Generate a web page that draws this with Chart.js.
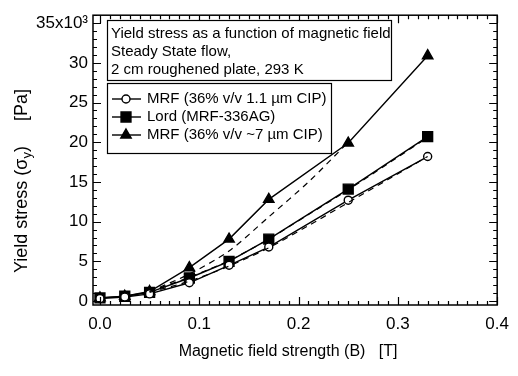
<!DOCTYPE html>
<html>
<head>
<meta charset="utf-8">
<script src="https://cdn.jsdelivr.net/npm/chart.js@4.4.1/dist/chart.umd.min.js"></script>
<style>
  body { margin: 0; background: #fff; }
  #wrap { width: 518px; height: 376px; }
</style>
</head>
<body>
<div id="wrap"><canvas id="myCanvas" width="518" height="376"></canvas></div>
<script>
// magnetic field (T)
var fieldB = [0, 0.025, 0.05, 0.09, 0.13, 0.17, 0.25, 0.33];
// yield stress (Pa)
var mrf11 = [300, 500, 900, 2300, 4500, 6800, 12700, 18200];
var lord = [400, 600, 1100, 2900, 5000, 7800, 14100, 20700];
var mrf7 = [400, 600, 1200, 4200, 7800, 12800, 19900, 30900];

// dashed model curves
var fitB = [0.05, 0.09, 0.13, 0.17, 0.21, 0.25, 0.29, 0.33];
var fit11 = [1100, 2500, 4400, 6700, 9500, 12400, 15300, 18200];
var fitLord = [1200, 3000, 5100, 7800, 10900, 14000, 17300, 20600];
var fit7B = [0.05, 0.09, 0.13, 0.17, 0.21, 0.25];
var fit7 = [1200, 3400, 6300, 10600, 15000, 20000];

var xTicks = [0, 0.1, 0.2, 0.3, 0.4];
var yTicks = [0, 5000, 10000, 15000, 20000, 25000, 30000, 35000];

var titleLines = ['Yield stress as a function of magnetic field', 'Steady State flow,', '2 cm roughened plate, 293 K'];
var legendNames = ['MRF (36% v/v 1.1 \u00b5m CIP)', 'Lord (MRF-336AG)', 'MRF (36% v/v ~7 \u00b5m CIP)'];
var xTitle = 'Magnetic field strength (B)   [T]';

var FONT = "'Liberation Sans', Arial, sans-serif";

function pts(xs, ys) {
	var out = [];
	for (var i in xs) out.push({x: xs[i], y: ys[i]});
	return out;
}

var markerStyles = [
	{pointStyle: 'circle', pointRadius: 4, pointBackgroundColor: '#fff'},
	{pointStyle: 'rect', pointRadius: 7, pointBackgroundColor: '#000'},
	{pointStyle: 'triangle', pointRadius: 6, pointBackgroundColor: '#000'}
];

function solid(data, m) {
	return {
		data: data,
		borderColor: '#000',
		borderWidth: 1.4,
		pointStyle: m.pointStyle,
		pointRadius: m.pointRadius,
		pointBackgroundColor: m.pointBackgroundColor,
		pointBorderColor: '#000',
		pointBorderWidth: 1.4,
		tension: 0,
		fill: false
	};
}
function dashed(data) {
	return {
		data: data,
		borderColor: '#000',
		borderWidth: 1.2,
		borderDash: [6, 5],
		pointRadius: 0,
		tension: 0.3,
		fill: false
	};
}

// inner ticks, frame, boxed title + legend, axis titles
var decorations = {
	id: 'decorations',
	afterDatasetsDraw: function(chart) {
		var ctx = chart.ctx;
		var a = chart.chartArea;
		var xs = chart.scales.x, ys = chart.scales.y;
		ctx.save();
		ctx.strokeStyle = '#000';
		ctx.fillStyle = '#000';

		// frame
		ctx.lineWidth = 1.5;
		ctx.strokeRect(a.left, a.top, a.right - a.left, a.bottom - a.top);

		// ticks
		ctx.lineWidth = 1.2;
		ctx.beginPath();
		for (var k = 0; k <= 40; k++) {
			var v = k / 100;
			var px = Math.round(xs.getPixelForValue(v)) + 0.5;
			var len = (k % 10 === 0) ? 8 : 4;
			ctx.moveTo(px, a.bottom); ctx.lineTo(px, a.bottom - len);
			ctx.moveTo(px, a.top); ctx.lineTo(px, a.top + len);
		}
		for (var j = 0; j <= 36; j++) {
			var py = Math.round(ys.getPixelForValue(j * 1000)) + 0.5;
			var l2 = (j % 5 === 0) ? 8 : 4;
			ctx.moveTo(a.left, py); ctx.lineTo(a.left + l2, py);
			ctx.moveTo(a.right, py); ctx.lineTo(a.right - l2, py);
		}
		ctx.stroke();

		// title box
		ctx.lineWidth = 1.2;
		ctx.fillStyle = '#fff';
		ctx.fillRect(107.5, 20.5, 284, 60);
		ctx.strokeRect(107.5, 20.5, 284, 60);
		ctx.fillRect(107.5, 83.5, 224, 70);
		ctx.strokeRect(107.5, 83.5, 224, 70);
		ctx.fillStyle = '#000';
		ctx.font = '15px ' + FONT;
		ctx.textBaseline = 'middle';
		ctx.textAlign = 'left';
		var ty = [34, 52, 70];
		for (var t in titleLines) ctx.fillText(titleLines[t], 111, ty[t]);

		// legend
		var ly = [99, 117, 135];
		for (var i in legendNames) {
			ctx.lineWidth = 1.4;
			ctx.beginPath();
			ctx.moveTo(112, ly[i]); ctx.lineTo(141, ly[i]);
			ctx.stroke();
			ctx.fillStyle = markerStyles[i].pointBackgroundColor;
			Chart.helpers.drawPoint(ctx, {pointStyle: markerStyles[i].pointStyle, radius: markerStyles[i].pointRadius, borderWidth: 1.4}, 126, ly[i]);
			ctx.fillStyle = '#000';
			ctx.fillText(legendNames[i], 147, ly[i]);
		}

		// x-axis title
		ctx.font = '16px ' + FONT;
		ctx.textAlign = 'center';
		ctx.fillText(xTitle, 288, 352);

		// y-axis title with subscript
		ctx.save();
		ctx.translate(22, 181);
		ctx.rotate(-Math.PI / 2);
		ctx.textAlign = 'left';
		ctx.textBaseline = 'middle';
		var p1 = 'Yield stress (\u03c3', p2 = 'y', p3 = ')     [Pa]';
		ctx.font = '18px ' + FONT;
		var w1 = ctx.measureText(p1).width;
		var w3 = ctx.measureText(p3).width;
		ctx.font = '13px ' + FONT;
		var w2 = ctx.measureText(p2).width;
		var x0 = -(w1 + w2 + w3) / 2;
		ctx.font = '18px ' + FONT;
		ctx.fillText(p1, x0, 0);
		ctx.font = '13px ' + FONT;
		ctx.fillText(p2, x0 + w1, 5);
		ctx.font = '18px ' + FONT;
		ctx.fillText(p3, x0 + w1 + w2, 0);
		ctx.restore();

		ctx.restore();
	}
};

var ctx = document.getElementById('myCanvas');

var chart = new Chart(ctx, {
	type: 'line',
	data: {
		datasets: [
			dashed(pts(fitB, fit11)),
			dashed(pts(fitB, fitLord)),
			dashed(pts(fit7B, fit7)),
			solid(pts(fieldB, mrf11), markerStyles[0]),
			solid(pts(fieldB, lord), markerStyles[1]),
			solid(pts(fieldB, mrf7), markerStyles[2])
		]
	},
	options: {
		responsive: false,
		animation: false,
		layout: {padding: {left: 0, right: 15, top: 11, bottom: 0}},
		plugins: {legend: {display: false}, tooltip: {enabled: false}},
		scales: {
			x: {
				type: 'linear',
				min: -0.007,
				max: 0.4,
				afterFit: function(s) { s.height = 71; },
				afterBuildTicks: function(s) { s.ticks = xTicks.map(function(v){ return {value: v}; }); },
				grid: {display: false, drawTicks: false},
				border: {display: false},
				ticks: {
					padding: 9,
					color: '#000',
					font: {family: FONT, size: 17},
					maxRotation: 0,
					callback: function(v) { return v.toFixed(1); }
				}
			},
			y: {
				type: 'linear',
				min: -500,
				max: 36000,
				afterFit: function(s) { s.width = 93; },
				afterBuildTicks: function(s) { s.ticks = yTicks.map(function(v){ return {value: v}; }); },
				grid: {display: false, drawTicks: false},
				border: {display: false},
				ticks: {
					padding: 5,
					color: '#000',
					font: {family: FONT, size: 17},
					callback: function(v) { return v === 35000 ? '35x10\u00b3' : String(v / 1000); }
				}
			}
		}
	},
	plugins: [decorations]
});
</script>
</body>
</html>
